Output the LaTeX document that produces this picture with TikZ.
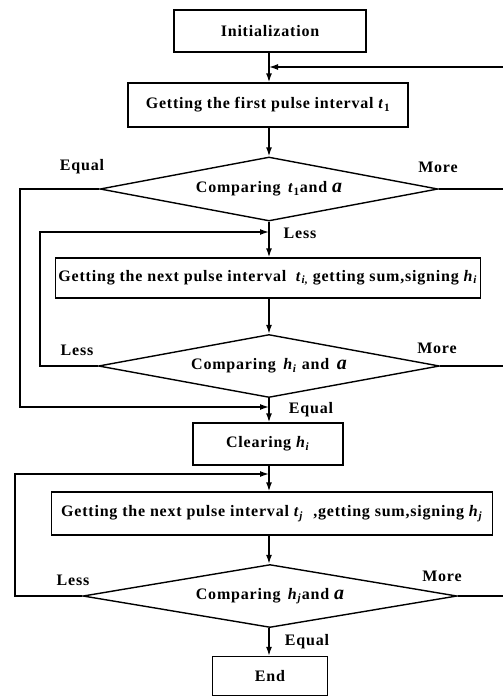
\documentclass[tikz,border=0pt]{standalone}
\usepackage{fontspec}
\setmainfont{Liberation Serif}[LetterSpace=5]
\usetikzlibrary{shapes.geometric,arrows.meta}
\newcommand{\vv}[1]{\textit{#1}}
\newcommand{\bigA}{{\fontsize{20}{20}\selectfont\itshape a}}
\begin{document}
\begin{tikzpicture}[x=1pt,y=-1pt,
  every node/.style={font=\fontsize{16}{18}\selectfont\bfseries},
  box/.style={draw,line width=1.4pt,inner sep=0pt,rectangle},
  dec/.style={draw,line width=1.4pt,diamond,aspect=5,inner sep=0pt},
  lab/.style={inner sep=0pt},
  ln/.style={line width=1.4pt},
  arr/.style={line width=1.4pt,-{Latex[length=9pt,width=6pt]}}]
\useasboundingbox (0,0) rectangle (503,697);
% nodes
\node[box,minimum width=192pt,minimum height=42pt] (init) at (270,31) {Initialization};
\node[box,minimum width=280pt,minimum height=44pt] (first) at (268,105) {Getting the first pulse interval \vv{t}\textsubscript{1}};
\node[dec,minimum width=338pt,minimum height=64pt] (d1) at (269,189) {Comparing \,\vv{t}\textsubscript{1}and \bigA};
\node[box,minimum width=425pt,minimum height=40pt] (b3) at (268,278) {Getting the next pulse interval \ \vv{t}\textsubscript{\vv{i},} getting sum,signing \vv{h}\textsubscript{\vv{i}}};
\node[dec,minimum width=341pt,minimum height=63pt] (d2) at (269,366) {Comparing \,\vv{h}\textsubscript{\vv{i}} and \,\bigA};
\node[box,minimum width=150pt,minimum height=42pt] (clr) at (268,444) {Clearing \vv{h}\textsubscript{\vv{i}}};
\node[box,minimum width=441pt,minimum height=43pt] (b4) at (272,513.5) {Getting the next pulse interval \vv{t}\textsubscript{\vv{j}} \ ,getting sum,signing \vv{h}\textsubscript{\vv{j}}};
\node[dec,minimum width=374pt,minimum height=63pt] (d3) at (270,596) {Comparing \,\vv{h}\textsubscript{\vv{j}}and \bigA};
\node[box,minimum width=115pt,minimum height=39pt] (end) at (270,676) {End};
% labels
\node[lab] (l1) at (82,167) {Equal};
\node[lab] (l2) at (438,167) {More};
\node[lab] (l3) at (300,233) {Less};
\node[lab] (l4) at (77,350) {Less};
\node[lab] (l5) at (437,348) {More};
\node[lab] (l6) at (311,410) {Equal};
\node[lab] (l7) at (73,580) {Less};
\node[lab] (l8) at (442,576) {More};
\node[lab] (l9) at (307,642) {Equal};
% junction coordinates
\coordinate (j1) at (269,67);
\coordinate (j2) at (269,232);
\coordinate (j3) at (269,407);
\coordinate (j4) at (269,474);
\coordinate (rx) at (503.6,0);
\coordinate (lx1) at (20,0);
\coordinate (lx2) at (40,0);
\coordinate (lx3) at (15,0);
% connectors
\draw[arr] (init.south -| j1) -- (first.north -| j1);
\draw[arr] (first.south -| j1) -- (d1.north -| j1);
\draw[arr] (d1.south -| j1) -- (b3.north -| j1);
\draw[arr] (b3.south -| j1) -- (d2.north -| j1);
\draw[arr] (d2.south -| j1) -- (clr.north -| j1);
\draw[arr] (clr.south -| j1) -- (b4.north -| j1);
\draw[arr] (b4.south -| j1) -- (d3.north -| j1);
\draw[arr] (d3.south -| j1) -- (end.north -| j1);
% More branches to the right loop
\draw[ln] (d1.east) -- (d1.east -| rx);
\draw[ln] (d2.east) -- (d2.east -| rx);
\draw[arr] (d3.east) -- (d3.east -| rx) |- (j1);
% Equal of d1
\draw[arr] (d1.west) -- (d1.west -| lx1) |- (j3);
% Less of d2
\draw[arr] (d2.west) -- (d2.west -| lx2) |- (j2);
% Less of d3
\draw[arr] (d3.west) -- (d3.west -| lx3) |- (j4);
\end{tikzpicture}
\end{document}
